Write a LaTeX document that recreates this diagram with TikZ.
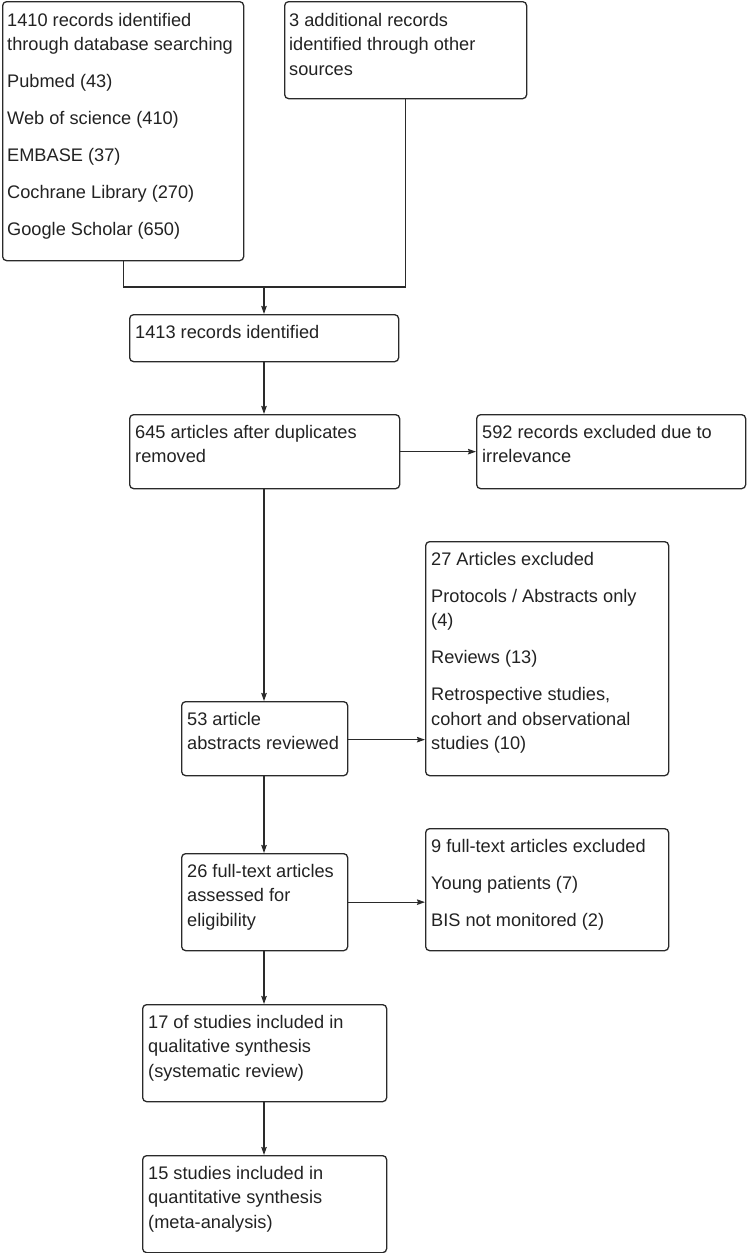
\documentclass[tikz,border=0pt]{standalone}
\usepackage{fontspec}
\setmainfont{Liberation Sans}
\usetikzlibrary{arrows.meta,calc}
\definecolor{linec}{HTML}{2A2A2A}
\definecolor{textc}{HTML}{222222}
\begin{document}
\begin{tikzpicture}[x=1pt,y=-1pt,
  box/.style={draw=linec, line width=1.3pt, rounded corners=4pt, inner sep=0pt, anchor=north west},
  txt/.style={anchor=north west, inner sep=0pt, align=left, text=textc, font=\fontsize{18.2}{24.5}\selectfont},
  arr/.style={draw=linec, line width=1.3pt, -{Stealth[length=8pt,width=5.5pt,inset=1pt]}},
  ln/.style={draw=linec, line width=1.3pt}]
\useasboundingbox (0,0) rectangle (750,1253);
% boxes
\node[box, minimum width=241pt, minimum height=259pt] (A) at (2,1) {};
\node[box, minimum width=242pt, minimum height=97pt] (B) at (284,1) {};
\node[box, minimum width=269pt, minimum height=47pt] (C) at (129,314) {};
\node[box, minimum width=270pt, minimum height=74pt] (D) at (129,414) {};
\node[box, minimum width=269pt, minimum height=74pt] (E) at (476,414) {};
\node[box, minimum width=166pt, minimum height=74pt] (F) at (181,701) {};
\node[box, minimum width=243pt, minimum height=234pt] (G) at (425,541) {};
\node[box, minimum width=166pt, minimum height=97pt] (H) at (181,853) {};
\node[box, minimum width=243pt, minimum height=122pt] (I) at (425,828) {};
\node[box, minimum width=244pt, minimum height=97pt] (J) at (142,1004) {};
\node[box, minimum width=244pt, minimum height=97pt] (K) at (142,1155) {};
% texts
\node[txt] (At) at ($(A.north west)+(5,8)$) {\strut 1410 records identified\\through database searching\\[12.5pt]Pubmed (43)\\[12.5pt]Web of science (410)\\[12.5pt]EMBASE (37)\\[12.5pt]Cochrane Library (270)\\[12.5pt]Google Scholar (650)};
\node[txt] (Bt) at ($(B.north west)+(5,8)$) {\strut 3 additional records\\identified through other\\sources};
\node[txt] (Ct) at ($(C.north west)+(6,7)$) {\strut 1413 records identified};
\node[txt] (Dt) at ($(D.north west)+(6,7)$) {\strut 645 articles after duplicates\\removed};
\node[txt] (Et) at ($(E.north west)+(6,7)$) {\strut 592 records excluded due to\\irrelevance};
\node[txt] (Ft) at ($(F.north west)+(6,7)$) {\strut 53 article\\abstracts reviewed};
\node[txt] (Gt) at ($(G.north west)+(6,7)$) {\strut 27 Articles excluded\\[12.5pt]Protocols / Abstracts only\\(4)\\[12.5pt]Reviews (13)\\[12.5pt]Retrospective studies,\\cohort and observational\\studies (10)};
\node[txt] (Ht) at ($(H.north west)+(6,7)$) {\strut 26 full-text articles\\assessed for\\eligibility};
\node[txt] (It) at ($(I.north west)+(6,7)$) {\strut 9 full-text articles excluded\\[12.5pt]Young patients (7)\\[12.5pt]BIS not monitored (2)};
\node[txt] (Jt) at ($(J.north west)+(6,7)$) {\strut 17 of studies included in\\qualitative synthesis\\(systematic review)};
\node[txt] (Kt) at ($(K.north west)+(6,7)$) {\strut 15 studies included in\\quantitative synthesis\\(meta-analysis)};
% connectors
\coordinate (m) at (264,287);
\draw[ln] (A.south) |- (m);
\draw[ln] (B.south) |- (m);
\draw[arr] (m) -- (C.north -| m);
\draw[arr] (C.south -| m) -- (D.north -| m);
\draw[arr] (D.east) -- (E.west |- D.east);
\draw[arr] (D.south -| m) -- (F.north -| m);
\draw[arr] ($(F.east)+(0,1)$) -- (G.west |- {$(F.east)+(0,1)$});
\draw[arr] (F.south -| m) -- (H.north -| m);
\draw[arr] (H.east) -- (I.west |- H.east);
\draw[arr] (H.south -| m) -- (J.north -| m);
\draw[arr] (J.south -| m) -- (K.north -| m);
\end{tikzpicture}
\end{document}
